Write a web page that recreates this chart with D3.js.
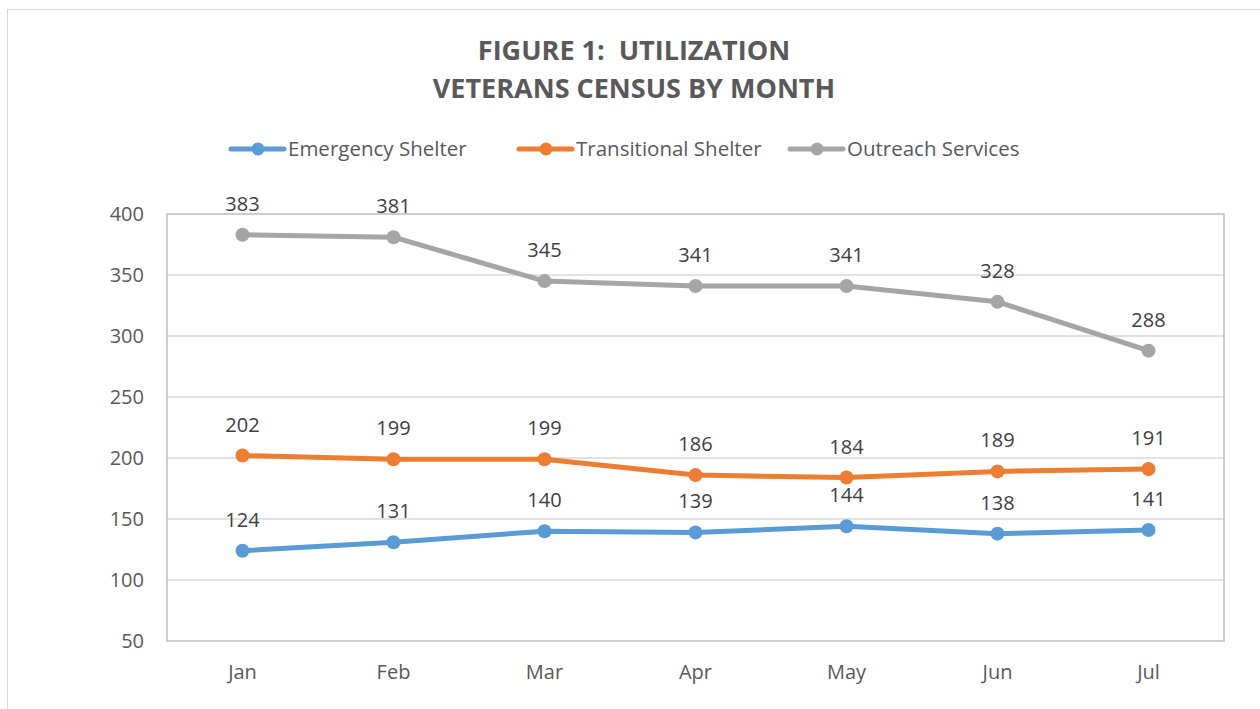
<!DOCTYPE html>
<html>
<head>
<meta charset="utf-8">
<script src="https://cdn.jsdelivr.net/npm/d3@7"></script>
<style>
  body { margin: 0; background: #fff; }
  text { font-family: "Open Sans", "Liberation Sans", sans-serif; }
</style>
</head>
<body>
<svg id="chart" width="1260" height="709"></svg>
<script>
// Data
var months = ["Jan", "Feb", "Mar", "Apr", "May", "Jun", "Jul"];
var seriesNames = ["Emergency Shelter", "Transitional Shelter", "Outreach Services"];
var emergency = [124, 131, 140, 139, 144, 138, 141];
var transitional = [202, 199, 199, 186, 184, 189, 191];
var outreach = [383, 381, 345, 341, 341, 328, 288];
var yTicks = [50, 100, 150, 200, 250, 300, 350, 400];
var colors = ["#5B9BD5", "#ED7D31", "#A5A5A5"];

var series = [emergency, transitional, outreach];

var svg = d3.select("#chart");

// outer chart border
svg.append("rect")
    .attr("x", 7.5).attr("y", 9.5)
    .attr("width", 1300).attr("height", 800)
    .attr("fill", "none")
    .attr("stroke", "#d9d9d9");

var plotLeft = 167, plotRight = 1224, plotTop = 214, plotBottom = 641;

var x = d3.scaleBand().domain(months).range([plotLeft, plotRight]);
var y = d3.scaleLinear().domain([50, 400]).range([plotBottom, plotTop]);

// title
svg.append("text")
    .attr("x", 634).attr("y", 60)
    .attr("text-anchor", "middle")
    .attr("xml:space", "preserve")
    .style("font-size", "27px").style("font-weight", "bold")
    .attr("fill", "#595959")
    .text("FIGURE 1:  UTILIZATION");
svg.append("text")
    .attr("x", 634).attr("y", 98)
    .attr("text-anchor", "middle")
    .style("font-size", "27px").style("font-weight", "bold")
    .attr("fill", "#595959")
    .text("VETERANS CENSUS BY MONTH");

// grid
svg.append("g")
    .selectAll("line")
    .data(yTicks.slice(1, -1))
    .enter().append("line")
    .attr("x1", plotLeft).attr("x2", plotRight)
    .attr("y1", function(d) { return y(d); })
    .attr("y2", function(d) { return y(d); })
    .attr("stroke", "#d9d9d9").attr("stroke-width", 1.5);

// plot border
svg.append("rect")
    .attr("x", plotLeft).attr("y", plotTop)
    .attr("width", plotRight - plotLeft).attr("height", plotBottom - plotTop)
    .attr("fill", "none")
    .attr("stroke", "#bfbfbf").attr("stroke-width", 1.5);

// y axis
var yAxis = svg.append("g")
    .attr("transform", "translate(" + (plotLeft - 20) + ",0)")
    .call(d3.axisLeft(y).tickValues(yTicks).tickSize(0));
yAxis.select(".domain").remove();
yAxis.selectAll("text")
    .style("font-size", "20px")
    .style("font-family", "'Open Sans', sans-serif")
    .attr("fill", "#595959");

// x axis
var xAxis = svg.append("g")
    .attr("transform", "translate(0," + (plotBottom + 21) + ")")
    .call(d3.axisBottom(x).tickSize(0));
xAxis.select(".domain").remove();
xAxis.selectAll("text")
    .style("font-size", "20px")
    .style("font-family", "'Open Sans', sans-serif")
    .attr("fill", "#595959");

var line = d3.line()
    .x(function(d, i) { return x(months[i]) + x.bandwidth() / 2; })
    .y(function(d) { return y(d); });

series.forEach(function(vals, s) {
    svg.append("path")
        .datum(vals)
        .attr("d", line)
        .attr("fill", "none")
        .attr("stroke", colors[s])
        .attr("stroke-width", 5)
        .attr("stroke-linejoin", "round")
        .attr("stroke-linecap", "round");

    svg.append("g")
        .selectAll("circle")
        .data(vals)
        .enter().append("circle")
        .attr("cx", function(d, i) { return x(months[i]) + x.bandwidth() / 2; })
        .attr("cy", function(d) { return y(d); })
        .attr("r", 7)
        .attr("fill", colors[s]);

    svg.append("g")
        .selectAll("text")
        .data(vals)
        .enter().append("text")
        .attr("x", function(d, i) { return x(months[i]) + x.bandwidth() / 2; })
        .attr("y", function(d) { return y(d) - 24; })
        .attr("text-anchor", "middle")
        .style("font-size", "20px")
        .attr("fill", "#404040")
        .text(function(d) { return d; });
});

// legend
var legendX = [231, 519, 790];
seriesNames.forEach(function(name, i) {
    var g = svg.append("g").attr("transform", "translate(" + legendX[i] + ",149)");
    g.append("line")
        .attr("x1", 0).attr("x2", 53)
        .attr("stroke", colors[i]).attr("stroke-width", 5)
        .attr("stroke-linecap", "round");
    g.append("circle").attr("cx", 27).attr("r", 6.5).attr("fill", colors[i]);
    g.append("text")
        .attr("x", 57).attr("y", 7)
        .style("font-size", "20.5px")
        .attr("fill", "#595959")
        .text(name);
});
</script>
</body>
</html>
